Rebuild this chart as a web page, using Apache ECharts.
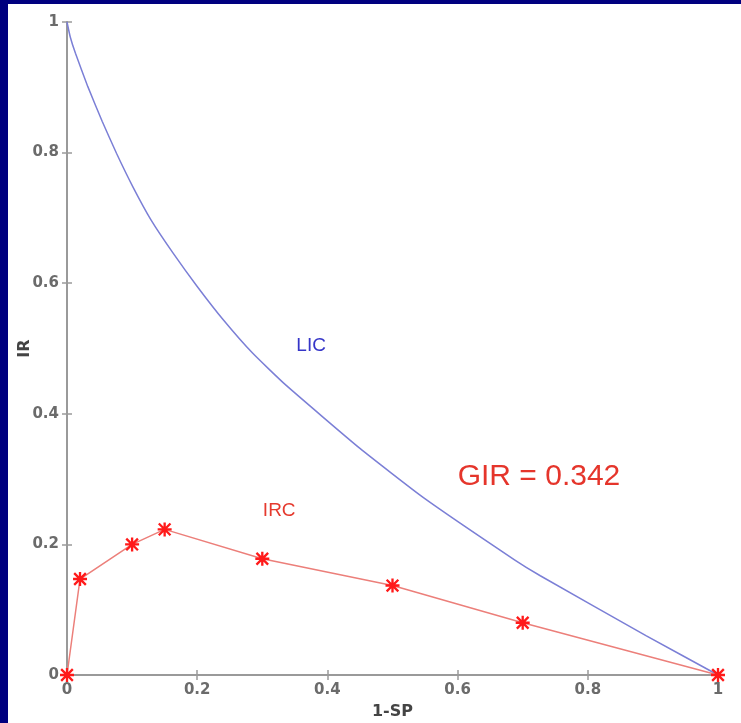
<!DOCTYPE html>
<html>
<head>
<meta charset="utf-8">
<script src="https://cdn.jsdelivr.net/npm/echarts@6/dist/echarts.min.js"></script>
<style>
  html, body { margin: 0; padding: 0; background: #00007f; }
  #chart { position: absolute; left: 8px; top: 4px; width: 733px; height: 719px; background: #ffffff; }
</style>
</head>
<body>
<div id="chart"></div>
<script>
// LIC curve
var licX = [0, 0.005, 0.013, 0.032, 0.054, 0.076, 0.101, 0.129, 0.163, 0.2, 0.24, 0.285, 0.335, 0.45, 0.547, 0.688, 0.727, 0.89, 1];
var licY = [1, 0.977, 0.952, 0.901, 0.848, 0.799, 0.748, 0.697, 0.646, 0.595, 0.544, 0.493, 0.445, 0.347, 0.272, 0.176, 0.152, 0.06, 0];

// IRC points
var ircX = [0, 0.02, 0.1, 0.15, 0.3, 0.5, 0.7, 1];
var ircY = [0, 0.147, 0.2, 0.223, 0.178, 0.137, 0.08, 0];

var giText = 'GIR = 0.342';

// asterisk marker like matlab's '*'
var star = 'path://M10,0h4v24h-4z M0,10h24v4h-24z M3.4,0.6L23.4,20.6L20.6,23.4L0.6,3.4z M20.6,0.6L23.4,3.4L3.4,23.4L0.6,20.6z';

function pairs(xs, ys) {
  return xs.map(function (x, i) { return [x, ys[i]]; });
}

var axisGray = '#9a9a9a';
var labelStyle = { color: '#6b6b6b', fontSize: 15, fontFamily: 'DejaVu Sans', fontWeight: 'bold' };
var nameStyle = { color: '#444', fontSize: 16, fontFamily: 'DejaVu Sans', fontWeight: 'bold' };

function baseAxis(extra) {
  return Object.assign({
    type: 'value', min: 0, max: 1, interval: 0.2,
    nameMoveOverlap: false,
    axisLine: { show: true, lineStyle: { color: axisGray, width: 2 } },
    axisTick: { show: true, inside: true, length: 5, lineStyle: { color: axisGray, width: 1.5 } },
    splitLine: { show: false }
  }, extra);
}

var chart = echarts.init(document.getElementById('chart'));
chart.setOption({
  animation: false,
  grid: { left: 59, right: 23, top: 18, bottom: 48, containLabel: false, outerBoundsMode: 'none' },
  xAxis: [
    baseAxis({
      position: 'bottom',
      name: '1-SP', nameLocation: 'middle', nameGap: 29,
      nameTextStyle: nameStyle,
      axisLabel: Object.assign({ margin: 8 }, labelStyle)
    }),
    baseAxis({ position: 'top', axisLabel: { show: false } })
  ],
  yAxis: [
    baseAxis({
      position: 'left',
      name: 'IR', nameLocation: 'middle', nameGap: 34,
      nameTextStyle: nameStyle,
      axisLabel: Object.assign({ margin: 8 }, labelStyle)
    }),
    baseAxis({ position: 'right', axisLabel: { show: false } })
  ],
  series: [
    {
      name: 'LIC', type: 'line', smooth: 0.15,
      data: pairs(licX, licY),
      showSymbol: false,
      lineStyle: { color: '#7b7fd6', width: 1.5 },
      markPoint: {
        symbolSize: 0,
        data: [{ coord: [0.375, 0.504], label: { show: true, formatter: 'LIC', color: '#3535c8', fontSize: 19, fontFamily: 'Liberation Sans' } }]
      }
    },
    {
      name: 'IRC', type: 'line',
      data: pairs(ircX, ircY),
      symbol: star, symbolSize: 14,
      itemStyle: { color: '#ff1a1a' },
      lineStyle: { color: '#ec7f7a', width: 1.5 },
      markPoint: {
        symbolSize: 0,
        data: [
          { coord: [0.326, 0.252], label: { show: true, formatter: 'IRC', color: '#e53a2e', fontSize: 19, fontFamily: 'Liberation Sans' } },
          { coord: [0.725, 0.303], label: { show: true, formatter: giText, color: '#e5352b', fontSize: 30, fontFamily: 'Liberation Sans' } }
        ]
      }
    }
  ]
});
</script>
</body>
</html>
